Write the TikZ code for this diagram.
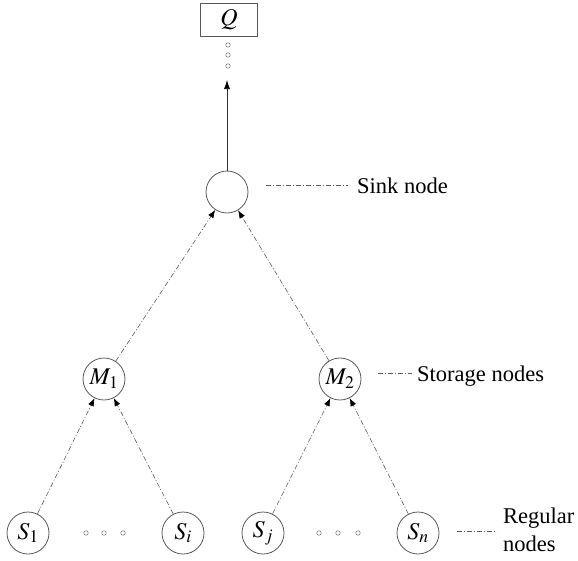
\documentclass[tikz,border=0pt]{standalone}
\usepackage{mathptmx}
\usepackage{fontspec}
\setmainfont{Liberation Serif}
\usetikzlibrary{arrows.meta}

\begin{document}
\begin{tikzpicture}[
  x=1pt,y=-1pt,
  vertex/.style={circle,draw=black!65,line width=0.8pt,minimum size=42pt,inner sep=0pt,font=\fontsize{24}{26}\selectfont},
  qbox/.style={draw=black!65,line width=0.8pt,minimum width=57pt,minimum height=33pt,inner sep=0pt,font=\fontsize{24}{26}\selectfont},
  link/.style={-{Latex[length=8pt,width=6pt,black]},draw=black!65,line width=0.6pt,dash pattern=on 5pt off 2pt on 1pt off 2pt},
  tag/.style={draw=black!65,line width=0.6pt,dash pattern=on 5pt off 2pt on 1pt off 2pt},
  note/.style={inner sep=0pt,align=left,font=\fontsize{22.5}{28}\selectfont},
  dot/.style={circle,draw=black!55,line width=0.5pt,inner sep=0pt,minimum size=4.5pt}
]
\useasboundingbox (0,0) rectangle (578,560);

% query box and sink
\node[qbox] (q) at (229,19.5) {$Q$};
\node[dot] (qd1) at (228,45) {};
\node[dot] (qd2) at (228,55) {};
\node[dot] (qd3) at (228,66) {};
\coordinate (qtip) at (227,80);
\node[vertex] (sink) at (227,192) {};
\draw[-{Latex[length=9pt,width=6pt,black]},draw=black!80,line width=0.7pt] (sink) -- (qtip);

% storage nodes
\node[vertex] (m1) at (104,379) {$M_1$};
\node[vertex] (m2) at (340,379) {$M_2$};

% regular nodes
\node[vertex] (s1) at (28,533) {$S_1$};
\node[vertex] (si) at (183,533) {$S_i$};
\node[vertex] (sj) at (263,533) {$S_j$};
\node[vertex] (sn) at (418,533) {$S_n$};
\node[dot] (ld1) at (86,533) {};
\node[dot] (ld2) at (104,533) {};
\node[dot] (ld3) at (123,533) {};
\node[dot] (rd1) at (319,533) {};
\node[dot] (rd2) at (338,533) {};
\node[dot] (rd3) at (358,533) {};

\draw[link] (s1) -- (m1);
\draw[link] (si) -- (m1);
\draw[link] (sj) -- (m2);
\draw[link] (sn) -- (m2);
\draw[link] (m1) -- (sink);
\draw[link] (m2) -- (sink);

% legend text
\node[note,anchor=west] (sinktxt) at (357,186) {Sink node};
\node[note,anchor=west] (storetxt) at (417,376) {Storage nodes};
\node[note,anchor=west] (regtxt) at (503,530) {Regular\\nodes};
\coordinate (sinktag) at (266,185);
\coordinate (storetag) at (378,373);
\coordinate (regtag) at (457,531);
\draw[tag,shorten >=9pt] (sinktag) -- (sinktag -| sinktxt.west);
\draw[tag,shorten >=5pt] (storetag) -- (storetag -| storetxt.west);
\draw[tag,shorten >=6pt] (regtag) -- (regtag -| regtxt.west);
\end{tikzpicture}
\end{document}
